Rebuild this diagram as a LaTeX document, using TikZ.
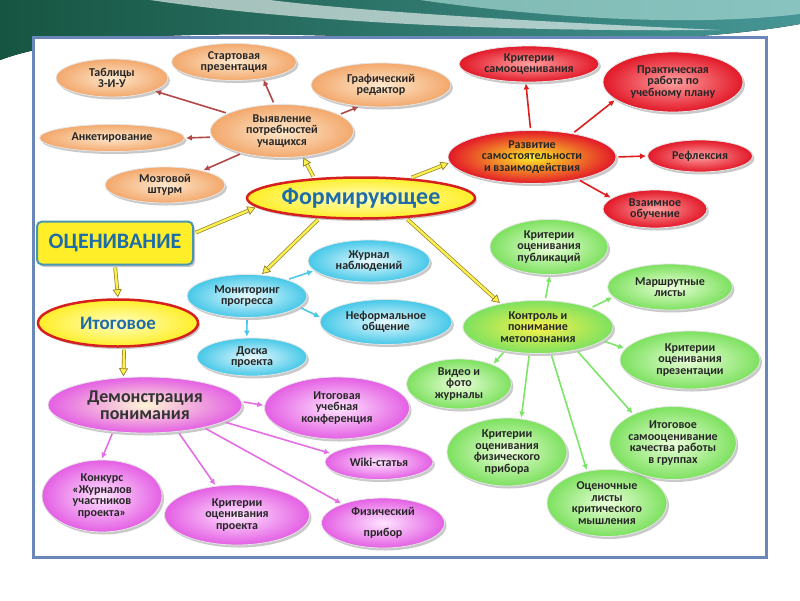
\documentclass[tikz,border=0pt]{standalone}
\usepackage{fontspec}
\setmainfont{Carlito}
\usepackage{tikz}
\usetikzlibrary{shapes,arrows,arrows.meta,shadows,positioning}

% bubble colours
\definecolor{orIn}{RGB}{253,232,205}
\definecolor{orOut}{RGB}{243,168,108}
\definecolor{rdIn}{RGB}{255,160,160}
\definecolor{rdOut}{RGB}{226,24,40}
\definecolor{blIn}{RGB}{232,250,255}
\definecolor{blOut}{RGB}{70,200,232}
\definecolor{grIn}{RGB}{235,255,218}
\definecolor{grOut}{RGB}{125,225,95}
\definecolor{pkIn}{RGB}{255,228,255}
\definecolor{pkOut}{RGB}{228,95,228}
\definecolor{yeIn}{RGB}{255,255,195}
\definecolor{yeOut}{RGB}{255,238,40}
\definecolor{hiRed}{RGB}{214,32,32}
\definecolor{txtBlue}{RGB}{30,108,168}
\definecolor{boxEdge}{RGB}{72,150,175}
% arrow colours
\definecolor{arOr}{RGB}{178,72,72}
\definecolor{arRd}{RGB}{222,30,30}
\definecolor{arBl}{RGB}{75,200,230}
\definecolor{arGr}{RGB}{125,228,105}
\definecolor{arPk}{RGB}{228,110,228}
\definecolor{yaOut}{RGB}{150,128,40}
\definecolor{yaIn}{RGB}{250,240,80}
% frame and swoosh
\definecolor{frameC}{RGB}{105,135,185}
\definecolor{swDark}{RGB}{22,85,65}
\definecolor{swMid}{RGB}{70,150,150}
\definecolor{swLight}{RGB}{165,215,210}

\begin{document}
\begin{tikzpicture}[x=1pt, y=-1pt, >={Latex[length=6pt,width=6pt]},
    sz/.style 2 args={minimum width=#1pt, minimum height=#2pt},
    bub/.style={ellipse, align=center, inner sep=0pt, draw=white!80!gray, line width=0.8pt,
        font=\bfseries\fontsize{12}{11.5}\selectfont, text=black!85,
        drop shadow={shadow xshift=2pt, shadow yshift=-2.5pt, opacity=0.35, fill=black!60}},
    orb/.style={bub, inner color=orIn, outer color=orOut},
    rdb/.style={bub, inner color=rdIn, outer color=rdOut},
    blb/.style={bub, inner color=blIn, outer color=blOut},
    grb/.style={bub, inner color=grIn, outer color=grOut},
    pkb/.style={bub, inner color=pkIn, outer color=pkOut},
    bigel/.style={ellipse, align=center, inner sep=0pt, draw=hiRed, line width=2.5pt,
        inner color=yeIn, outer color=yeOut, text=txtBlue,
        drop shadow={shadow xshift=2pt, shadow yshift=-2.5pt, opacity=0.35, fill=black!60}},
    obox/.style={rectangle, rounded corners=5pt, draw=boxEdge, line width=2pt,
        fill=yeOut, text=txtBlue, font=\bfseries\fontsize{22}{22}\selectfont,
        drop shadow={shadow xshift=2pt, shadow yshift=-2.5pt, opacity=0.35, fill=black!60}},
    arr/.style={->, line width=1.6pt, shorten <=2pt, shorten >=1pt},
    yarr/.style={draw=yaOut, line width=0.7pt, double=yaIn, double distance=2.4pt,
        -{Triangle[length=8pt,width=9pt,fill=yaIn]}, shorten <=2pt, shorten >=1pt}]

    \useasboundingbox (0,0) rectangle (800,600);
    \fill[white] (0,0) rectangle (800,600);

    % swoosh at the top
    \fill[left color=swDark, right color=swMid] (0,0) -- (800,0) -- (800,24)
        .. controls (700,42) and (550,44) .. (400,38) .. controls (250,32) and (80,30) .. (0,60) -- cycle;
    \fill[swLight, opacity=0.7] (420,0) .. controls (560,20) and (700,26) .. (800,14) -- (800,0) -- cycle;
    \fill[white, opacity=0.6] (150,0) .. controls (300,22) and (500,32) .. (720,30)
        .. controls (500,20) and (350,10) .. (270,0) -- cycle;

    % slide frame
    \filldraw[fill=white, draw=frameC, line width=3pt,
        drop shadow={shadow xshift=2pt, shadow yshift=-2pt, opacity=0.4}] (33,37) rectangle (766,557);

    % orange group
    \node[orb, sz={112}{38}] (tab) at (112,78) {Таблицы\\З-И-У};
    \node[orb, sz={125}{37}] (st) at (234,62) {Стартовая\\презентация};
    \node[orb, sz={140}{44}] (gr) at (381,85) {Графический\\редактор};
    \node[orb, sz={143}{53}] (vy) at (282,131) {Выявление\\потребностей\\учащихся};
    \node[orb, sz={145}{27}] (ank) at (112,138) {Анкетирование};
    \node[orb, sz={120}{36}] (moz) at (165,185) {Мозговой\\штурм};

    % main nodes
    \node[bigel, sz={228}{41}, font=\bfseries\fontsize{24}{24}\selectfont] (form) at (361,198) {Формирующее};
    \node[obox, sz={156}{43}] (ots) at (115,243) {ОЦЕНИВАНИЕ};
    \node[bigel, sz={160}{47}, font=\bfseries\fontsize{19}{19}\selectfont] (itog) at (118,323) {Итоговое};
    \node[pkb, sz={194}{56}, inner color=yeIn!70!pkIn, font=\bfseries\fontsize{18}{17}\selectfont,
        text=black!80] (dem) at (145,405) {Демонстрация\\понимания};

    % red group
    \node[rdb, sz={140}{36}] (krs) at (529,64) {Критерии\\самооценивания};
    \node[rdb, sz={140}{60}] (prak) at (673,82) {Практическая\\работа по\\учебному плану};
    \node[rdb, sz={168}{53}, inner color=yeOut] (raz) at (532,157) {Развитие\\самостоятельности\\и взаимодействия};
    \node[rdb, sz={105}{32}] (ref) at (700,156) {Рефлексия};
    \node[rdb, sz={104}{38}] (vza) at (655,209) {Взаимное\\обучение};

    % blue group
    \node[blb, sz={122}{42}] (zhur) at (369,261) {Журнал\\наблюдений};
    \node[blb, sz={120}{43}] (mon) at (247,296) {Мониторинг\\прогресса};
    \node[blb, sz={132}{45}] (nef) at (386,322) {Неформальное\\общение};
    \node[blb, sz={110}{38}] (dos) at (252,357) {Доска\\проекта};

    % green group
    \node[grb, sz={118}{55}] (kpub) at (549,247) {Критерии\\оценивания\\публикаций};
    \node[grb, sz={125}{46}] (mar) at (670,287) {Маршрутные\\листы};
    \node[grb, sz={150}{53}, inner color=yeOut!80!grIn] (kon) at (538,327) {Контроль и\\понимание\\метопознания};
    \node[grb, sz={140}{58}] (kpre) at (690,360) {Критерии\\оценивания\\презентации};
    \node[grb, sz={105}{50}] (vid) at (459,384) {Видео и\\фото\\журналы};
    \node[grb, sz={120}{68}] (kfiz) at (507,452) {Критерии\\оценивания\\физического\\прибора};
    \node[grb, sz={120}{67}] (ocl) at (607,503) {Оценочные\\листы\\критического\\мышления};
    \node[grb, sz={120}{73}] (itsam) at (673,443) {Итоговое\\самооценивание\\качества работы\\в группах};

    % pink group
    \node[pkb, sz={145}{62}] (ikonf) at (337,408) {Итоговая\\учебная\\конференция};
    \node[pkb, sz={108}{35}] (wiki) at (379,462) {Wiki-статья};
    \node[pkb, sz={120}{72}] (konk) at (102,496) {Конкурс\\«Журналов\\участников\\проекта»};
    \node[pkb, sz={145}{60}] (kpro) at (237,515) {Критерии\\оценивания\\проекта};
    \node[pkb, sz={123}{50}] (fiz) at (383,523) {Физический\\[9pt]прибор};

    % connectors
    \foreach \a/\b in {form.157/vy.-51, ots.7/form.185, form.22/raz.184, form.206/mon.56,
                       form.-24/kon.148, ots.south/itog.north, itog.-76/dem.128}
        \draw[yarr] (\a) -- (\b);

    \foreach \a/\b in {vy.162/tab.-17, vy.106/st.-30, vy.16/gr.-135, vy.185/ank.0, vy.209/moz.21}
        \draw[arr, draw=arOr] (\a) -- (\b);

    \foreach \a/\b in {raz.93/krs.-100, raz.30/prak.197, raz.0/ref.180, raz.-26/vza.166}
        \draw[arr, draw=arRd] (\a) -- (\b);

    \foreach \a/\b in {mon.22/zhur.190, mon.-12/nef.176, mon.-90/dos.105}
        \draw[arr, draw=arBl] (\a) -- (\b);

    \foreach \a/\b in {kon.75/kpub.-88, kon.20/mar.190, kon.-12/kpre.170, kon.216/vid.30,
                       kon.-108/kfiz.67, kon.-64/ocl.122, kon.-31/itsam.144}
        \draw[arr, draw=arGr] (\a) -- (\b);

    \foreach \a/\b in {dem.2/ikonf.178, dem.-12/wiki.170, dem.-140/konk.91, dem.-39/kpro.126, dem.-21/fiz.155}
        \draw[arr, draw=arPk] (\a) -- (\b);

\end{tikzpicture}
\end{document}
